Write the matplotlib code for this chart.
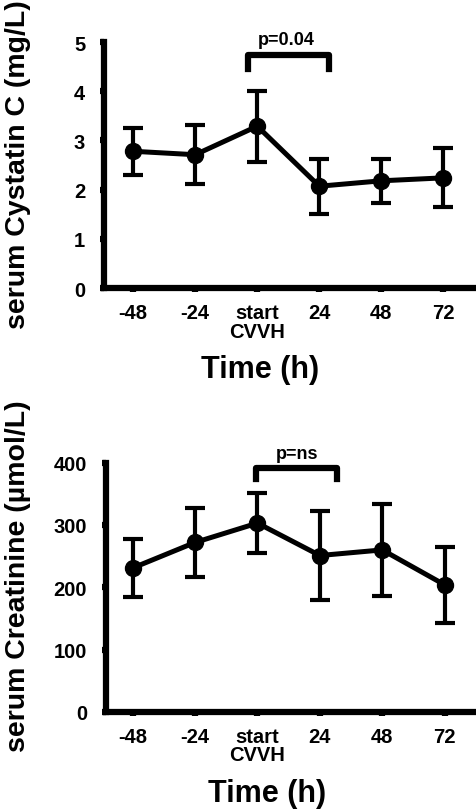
import matplotlib
matplotlib.use('Agg')
import matplotlib.pyplot as plt
import numpy as np

plt.rcParams['font.family'] = ['Liberation Sans', 'DejaVu Sans']
plt.rcParams['font.weight'] = 'bold'

# time points
times = ['-48', '-24', 'start\nCVVH', '24', '48', '72']

# serum cystatin C (mg/L), mean and error
cys_mean = [2.78, 2.71, 3.29, 2.07, 2.18, 2.24]
cys_err = [0.48, 0.60, 0.72, 0.56, 0.45, 0.60]

# serum creatinine (umol/L), mean and error
cre_mean = [231, 272, 303, 251, 260, 204]
cre_err = [46, 55, 48, 71, 74, 61]

p_cys = 'p=0.04'
p_cre = 'p=ns'


def panel(ax, mean, err, ymax, yticks, xlim, br_x, br_y, ptext, pxy):
    x = np.arange(len(times))
    ax.errorbar(x, mean, yerr=err, color='black', lw=3.6, marker='o', ms=11.5,
                elinewidth=3, capsize=7, capthick=3, zorder=3)
    ax.set_xlim(*xlim)
    ax.set_ylim(0, ymax)
    ax.set_yticks(yticks)
    ax.set_xticks(x)
    ax.set_xticklabels(times)
    for t in ax.get_xticklabels():
        t.set_linespacing(0.95)
    for s in ['top', 'right']:
        ax.spines[s].set_visible(False)
    for s in ['left', 'bottom']:
        ax.spines[s].set_linewidth(4.5)
    ax.tick_params(axis='both', width=4.5, length=3, labelsize=14.5)
    ax.tick_params(axis='x', pad=8)
    ax.tick_params(axis='y', pad=10.5)
    # significance bracket
    ax.plot([br_x[0], br_x[0], br_x[1], br_x[1]], [br_y[0], br_y[1], br_y[1], br_y[0]],
            color='black', lw=4.5, clip_on=False, solid_joinstyle='round')
    ax.text(pxy[0], pxy[1], ptext, ha='center', va='center', fontsize=13,
            fontweight='bold', clip_on=False)


fig = plt.figure(figsize=(4.77, 8.12), dpi=100)

ax1 = fig.add_axes([0.218, 0.644, 0.774, 0.303])
panel(ax1, cys_mean, cys_err, 5, [0, 1, 2, 3, 4, 5], (-0.47, 5.48),
      (1.85, 3.16), (4.45, 4.73), p_cys, (2.47, 5.06))

ax2 = fig.add_axes([0.222, 0.122, 0.769, 0.307])
panel(ax2, cre_mean, cre_err, 400, [0, 100, 200, 300, 400], (-0.43, 5.45),
      (1.98, 3.28), (373, 391), p_cre, (2.63, 414))

fig.text(18 / 477, 1 - 165 / 812, 'serum Cystatin C (mg/L)', rotation=90,
         ha='center', va='center', fontsize=20.5, fontweight='bold')
fig.text(18 / 477, 1 - 576 / 812, 'serum Creatinine (µmol/L)', rotation=90,
         ha='center', va='center', fontsize=20.5, fontweight='bold')
fig.text(260 / 477, 1 - 370 / 812, 'Time (h)', ha='center', va='center',
         fontsize=22, fontweight='bold')
fig.text(267 / 477, 1 - 794 / 812, 'Time (h)', ha='center', va='center',
         fontsize=22, fontweight='bold')

plt.savefig('out.png', dpi=100)
